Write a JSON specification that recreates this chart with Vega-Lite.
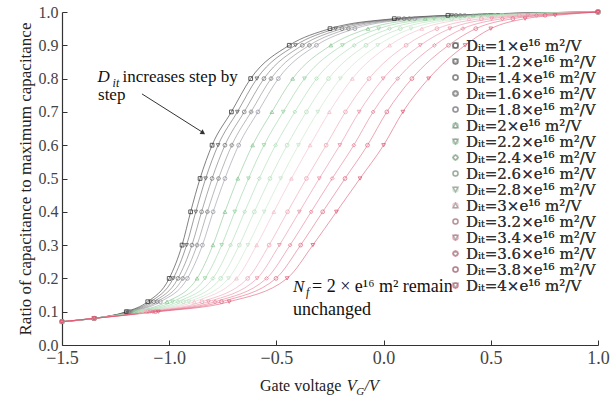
{
  "$schema": "https://vega.github.io/schema/vega-lite/v6.json",
  "width": 536,
  "height": 333,
  "autosize": "none",
  "padding": {"left": 62, "top": 12, "right": 15, "bottom": 51},
  "background": "white",
  "config": {"view": {"stroke": null}, "font": "Liberation Serif"},
  "datasets": {
    "one": [{}],
    "curves": [
      {"D":1,"x":-1.5,"y":0.07},{"D":1,"x":-1.35,"y":0.08},{"D":1,"x":-1.2,"y":0.1},{"D":1,"x":-1.1,"y":0.13},{"D":1,"x":-1.0,"y":0.2},{"D":1,"x":-0.94,"y":0.3},{"D":1,"x":-0.9,"y":0.4},{"D":1,"x":-0.856,"y":0.5},{"D":1,"x":-0.8,"y":0.6},{"D":1,"x":-0.71,"y":0.7},{"D":1,"x":-0.62,"y":0.8},{"D":1,"x":-0.44,"y":0.9},{"D":1,"x":-0.25,"y":0.95},{"D":1,"x":0.05,"y":0.98},{"D":1,"x":0.3,"y":0.99},{"D":1,"x":1.0,"y":1.0},
      {"D":1.2,"x":-1.5,"y":0.07},{"D":1.2,"x":-1.35,"y":0.08},{"D":1.2,"x":-1.195,"y":0.1},{"D":1.2,"x":-1.087,"y":0.13},{"D":1.2,"x":-0.981,"y":0.2},{"D":1.2,"x":-0.919,"y":0.3},{"D":1.2,"x":-0.876,"y":0.4},{"D":1.2,"x":-0.83,"y":0.5},{"D":1.2,"x":-0.772,"y":0.6},{"D":1.2,"x":-0.682,"y":0.7},{"D":1.2,"x":-0.591,"y":0.8},{"D":1.2,"x":-0.411,"y":0.9},{"D":1.2,"x":-0.224,"y":0.95},{"D":1.2,"x":0.071,"y":0.98},{"D":1.2,"x":0.318,"y":0.99},{"D":1.2,"x":1.0,"y":1.0},
      {"D":1.4,"x":-1.5,"y":0.07},{"D":1.4,"x":-1.35,"y":0.08},{"D":1.4,"x":-1.189,"y":0.1},{"D":1.4,"x":-1.072,"y":0.13},{"D":1.4,"x":-0.959,"y":0.2},{"D":1.4,"x":-0.894,"y":0.3},{"D":1.4,"x":-0.849,"y":0.4},{"D":1.4,"x":-0.8,"y":0.5},{"D":1.4,"x":-0.74,"y":0.6},{"D":1.4,"x":-0.65,"y":0.7},{"D":1.4,"x":-0.558,"y":0.8},{"D":1.4,"x":-0.379,"y":0.9},{"D":1.4,"x":-0.194,"y":0.95},{"D":1.4,"x":0.096,"y":0.98},{"D":1.4,"x":0.338,"y":0.99},{"D":1.4,"x":1.0,"y":1.0},
      {"D":1.6,"x":-1.5,"y":0.07},{"D":1.6,"x":-1.35,"y":0.08},{"D":1.6,"x":-1.183,"y":0.1},{"D":1.6,"x":-1.056,"y":0.13},{"D":1.6,"x":-0.937,"y":0.2},{"D":1.6,"x":-0.87,"y":0.3},{"D":1.6,"x":-0.822,"y":0.4},{"D":1.6,"x":-0.77,"y":0.5},{"D":1.6,"x":-0.708,"y":0.6},{"D":1.6,"x":-0.618,"y":0.7},{"D":1.6,"x":-0.525,"y":0.8},{"D":1.6,"x":-0.346,"y":0.9},{"D":1.6,"x":-0.164,"y":0.95},{"D":1.6,"x":0.12,"y":0.98},{"D":1.6,"x":0.358,"y":0.99},{"D":1.6,"x":1.0,"y":1.0},
      {"D":1.8,"x":-1.5,"y":0.07},{"D":1.8,"x":-1.35,"y":0.08},{"D":1.8,"x":-1.177,"y":0.1},{"D":1.8,"x":-1.041,"y":0.13},{"D":1.8,"x":-0.915,"y":0.2},{"D":1.8,"x":-0.845,"y":0.3},{"D":1.8,"x":-0.795,"y":0.4},{"D":1.8,"x":-0.74,"y":0.5},{"D":1.8,"x":-0.676,"y":0.6},{"D":1.8,"x":-0.586,"y":0.7},{"D":1.8,"x":-0.491,"y":0.8},{"D":1.8,"x":-0.313,"y":0.9},{"D":1.8,"x":-0.134,"y":0.95},{"D":1.8,"x":0.145,"y":0.98},{"D":1.8,"x":0.378,"y":0.99},{"D":1.8,"x":1.0,"y":1.0},
      {"D":2,"x":-1.5,"y":0.07},{"D":2,"x":-1.35,"y":0.08},{"D":2,"x":-1.165,"y":0.1},{"D":2,"x":-1.01,"y":0.13},{"D":2,"x":-0.87,"y":0.2},{"D":2,"x":-0.796,"y":0.3},{"D":2,"x":-0.74,"y":0.4},{"D":2,"x":-0.68,"y":0.5},{"D":2,"x":-0.611,"y":0.6},{"D":2,"x":-0.521,"y":0.7},{"D":2,"x":-0.424,"y":0.8},{"D":2,"x":-0.246,"y":0.9},{"D":2,"x":-0.073,"y":0.95},{"D":2,"x":0.194,"y":0.98},{"D":2,"x":0.418,"y":0.99},{"D":2,"x":1.0,"y":1.0},
      {"D":2.2,"x":-1.5,"y":0.07},{"D":2.2,"x":-1.35,"y":0.08},{"D":2.2,"x":-1.155,"y":0.1},{"D":2.2,"x":-0.985,"y":0.13},{"D":2.2,"x":-0.833,"y":0.2},{"D":2.2,"x":-0.755,"y":0.3},{"D":2.2,"x":-0.694,"y":0.4},{"D":2.2,"x":-0.63,"y":0.5},{"D":2.2,"x":-0.558,"y":0.6},{"D":2.2,"x":-0.468,"y":0.7},{"D":2.2,"x":-0.369,"y":0.8},{"D":2.2,"x":-0.192,"y":0.9},{"D":2.2,"x":-0.023,"y":0.95},{"D":2.2,"x":0.235,"y":0.98},{"D":2.2,"x":0.452,"y":0.99},{"D":2.2,"x":1.0,"y":1.0},
      {"D":2.4,"x":-1.5,"y":0.07},{"D":2.4,"x":-1.35,"y":0.08},{"D":2.4,"x":-1.144,"y":0.1},{"D":2.4,"x":-0.959,"y":0.13},{"D":2.4,"x":-0.796,"y":0.2},{"D":2.4,"x":-0.714,"y":0.3},{"D":2.4,"x":-0.648,"y":0.4},{"D":2.4,"x":-0.58,"y":0.5},{"D":2.4,"x":-0.504,"y":0.6},{"D":2.4,"x":-0.414,"y":0.7},{"D":2.4,"x":-0.313,"y":0.8},{"D":2.4,"x":-0.137,"y":0.9},{"D":2.4,"x":0.028,"y":0.95},{"D":2.4,"x":0.276,"y":0.98},{"D":2.4,"x":0.485,"y":0.99},{"D":2.4,"x":1.0,"y":1.0},
      {"D":2.6,"x":-1.5,"y":0.07},{"D":2.6,"x":-1.35,"y":0.08},{"D":2.6,"x":-1.134,"y":0.1},{"D":2.6,"x":-0.934,"y":0.13},{"D":2.6,"x":-0.76,"y":0.2},{"D":2.6,"x":-0.673,"y":0.3},{"D":2.6,"x":-0.603,"y":0.4},{"D":2.6,"x":-0.53,"y":0.5},{"D":2.6,"x":-0.45,"y":0.6},{"D":2.6,"x":-0.36,"y":0.7},{"D":2.6,"x":-0.257,"y":0.8},{"D":2.6,"x":-0.082,"y":0.9},{"D":2.6,"x":0.078,"y":0.95},{"D":2.6,"x":0.317,"y":0.98},{"D":2.6,"x":0.519,"y":0.99},{"D":2.6,"x":1.0,"y":1.0},
      {"D":2.8,"x":-1.5,"y":0.07},{"D":2.8,"x":-1.35,"y":0.08},{"D":2.8,"x":-1.124,"y":0.1},{"D":2.8,"x":-0.908,"y":0.13},{"D":2.8,"x":-0.723,"y":0.2},{"D":2.8,"x":-0.633,"y":0.3},{"D":2.8,"x":-0.557,"y":0.4},{"D":2.8,"x":-0.48,"y":0.5},{"D":2.8,"x":-0.397,"y":0.6},{"D":2.8,"x":-0.307,"y":0.7},{"D":2.8,"x":-0.202,"y":0.8},{"D":2.8,"x":-0.027,"y":0.9},{"D":2.8,"x":0.128,"y":0.95},{"D":2.8,"x":0.357,"y":0.98},{"D":2.8,"x":0.552,"y":0.99},{"D":2.8,"x":1.0,"y":1.0},
      {"D":3,"x":-1.5,"y":0.07},{"D":3,"x":-1.35,"y":0.08},{"D":3,"x":-1.114,"y":0.1},{"D":3,"x":-0.883,"y":0.13},{"D":3,"x":-0.686,"y":0.2},{"D":3,"x":-0.592,"y":0.3},{"D":3,"x":-0.512,"y":0.4},{"D":3,"x":-0.43,"y":0.5},{"D":3,"x":-0.343,"y":0.6},{"D":3,"x":-0.253,"y":0.7},{"D":3,"x":-0.146,"y":0.8},{"D":3,"x":0.028,"y":0.9},{"D":3,"x":0.178,"y":0.95},{"D":3,"x":0.398,"y":0.98},{"D":3,"x":0.586,"y":0.99},{"D":3,"x":1.0,"y":1.0},
      {"D":3.2,"x":-1.5,"y":0.07},{"D":3.2,"x":-1.35,"y":0.08},{"D":3.2,"x":-1.1,"y":0.1},{"D":3.2,"x":-0.847,"y":0.13},{"D":3.2,"x":-0.634,"y":0.2},{"D":3.2,"x":-0.534,"y":0.3},{"D":3.2,"x":-0.448,"y":0.4},{"D":3.2,"x":-0.36,"y":0.5},{"D":3.2,"x":-0.268,"y":0.6},{"D":3.2,"x":-0.178,"y":0.7},{"D":3.2,"x":-0.068,"y":0.8},{"D":3.2,"x":0.105,"y":0.9},{"D":3.2,"x":0.249,"y":0.95},{"D":3.2,"x":0.456,"y":0.98},{"D":3.2,"x":0.633,"y":0.99},{"D":3.2,"x":1.0,"y":1.0},
      {"D":3.4,"x":-1.5,"y":0.07},{"D":3.4,"x":-1.35,"y":0.08},{"D":3.4,"x":-1.088,"y":0.1},{"D":3.4,"x":-0.817,"y":0.13},{"D":3.4,"x":-0.59,"y":0.2},{"D":3.4,"x":-0.486,"y":0.3},{"D":3.4,"x":-0.393,"y":0.4},{"D":3.4,"x":-0.3,"y":0.5},{"D":3.4,"x":-0.204,"y":0.6},{"D":3.4,"x":-0.114,"y":0.7},{"D":3.4,"x":-0.002,"y":0.8},{"D":3.4,"x":0.171,"y":0.9},{"D":3.4,"x":0.309,"y":0.95},{"D":3.4,"x":0.504,"y":0.98},{"D":3.4,"x":0.673,"y":0.99},{"D":3.4,"x":1.0,"y":1.0},
      {"D":3.6,"x":-1.5,"y":0.07},{"D":3.6,"x":-1.35,"y":0.08},{"D":3.6,"x":-1.076,"y":0.1},{"D":3.6,"x":-0.786,"y":0.13},{"D":3.6,"x":-0.546,"y":0.2},{"D":3.6,"x":-0.436,"y":0.3},{"D":3.6,"x":-0.338,"y":0.4},{"D":3.6,"x":-0.24,"y":0.5},{"D":3.6,"x":-0.139,"y":0.6},{"D":3.6,"x":-0.049,"y":0.7},{"D":3.6,"x":0.066,"y":0.8},{"D":3.6,"x":0.237,"y":0.9},{"D":3.6,"x":0.37,"y":0.95},{"D":3.6,"x":0.554,"y":0.98},{"D":3.6,"x":0.713,"y":0.99},{"D":3.6,"x":1.0,"y":1.0},
      {"D":3.8,"x":-1.5,"y":0.07},{"D":3.8,"x":-1.35,"y":0.08},{"D":3.8,"x":-1.064,"y":0.1},{"D":3.8,"x":-0.756,"y":0.13},{"D":3.8,"x":-0.502,"y":0.2},{"D":3.8,"x":-0.387,"y":0.3},{"D":3.8,"x":-0.284,"y":0.4},{"D":3.8,"x":-0.18,"y":0.5},{"D":3.8,"x":-0.075,"y":0.6},{"D":3.8,"x":0.015,"y":0.7},{"D":3.8,"x":0.132,"y":0.8},{"D":3.8,"x":0.303,"y":0.9},{"D":3.8,"x":0.43,"y":0.95},{"D":3.8,"x":0.603,"y":0.98},{"D":3.8,"x":0.753,"y":0.99},{"D":3.8,"x":1.0,"y":1.0},
      {"D":4,"x":-1.5,"y":0.07},{"D":4,"x":-1.35,"y":0.08},{"D":4,"x":-1.05,"y":0.1},{"D":4,"x":-0.72,"y":0.13},{"D":4,"x":-0.45,"y":0.2},{"D":4,"x":-0.33,"y":0.3},{"D":4,"x":-0.22,"y":0.4},{"D":4,"x":-0.11,"y":0.5},{"D":4,"x":0.0,"y":0.6},{"D":4,"x":0.09,"y":0.7},{"D":4,"x":0.21,"y":0.8},{"D":4,"x":0.38,"y":0.9},{"D":4,"x":0.5,"y":0.95},{"D":4,"x":0.66,"y":0.98},{"D":4,"x":0.8,"y":0.99},{"D":4,"x":1.0,"y":1.0}
    ]
  },
  "encoding": {
    "x": {"type": "quantitative", "scale": {"domain": [-1.5, 1.0], "nice": false, "zero": false},
      "axis": {"values": [-1.5, -1, -0.5, 0, 0.5, 1], "format": ".1f", "title": null, "grid": false,
        "tickSize": -5, "labelPadding": 9, "labelFlush": false, "labelOverlap": false,
        "domainColor": "#333", "domainWidth": 1.2, "tickColor": "#333",
        "labelFont": "Liberation Serif", "labelFontSize": 18, "labelColor": "#444"}},
    "y": {"type": "quantitative", "scale": {"domain": [0, 1.0], "nice": false},
      "axis": {"values": [0, 0.1, 0.2, 0.3, 0.4, 0.5, 0.6, 0.7, 0.8, 0.9, 1.0], "format": ".1f",
        "title": "Ratio of capacitance to maximum capacitance", "grid": false,
        "tickSize": -5, "labelPadding": 9, "labelOverlap": false,
        "domainColor": "#333", "domainWidth": 1.2, "tickColor": "#333",
        "labelFont": "Liberation Serif", "labelFontSize": 16, "labelColor": "#444",
        "titleFont": "Liberation Serif", "titleFontSize": 17, "titleFontWeight": "normal", "titleColor": "#222", "titlePadding": 4}}
  },
  "layer": [
    {
      "data": {"name": "curves"},
      "mark": {"type": "line", "interpolate": "monotone", "strokeWidth": 1, "opacity": 0.55},
      "encoding": {
        "x": {"field": "x", "type": "quantitative"},
        "y": {"field": "y", "type": "quantitative"},
        "color": {"field": "D", "type": "ordinal",
          "scale": {"range": ["#1a1a1a", "#4d4d4d", "#666666", "#808080", "#8c8c9c", "#7fbf8a", "#8dcf98", "#9fd8a8", "#b0dcb6", "#bfe3c3", "#f0b8c4", "#ec99aa", "#e8849a", "#e57089", "#e25d79", "#de4a69"]},
          "legend": {"orient": "none", "legendX": 386, "legendY": 26, "title": null,
            "labelExpr": "'Dᵢₜ=' + datum.label + '×e¹⁶ m²/V'",
            "labelFont": "DejaVu Serif", "labelFontSize": 15, "labelColor": "#333",
            "rowPadding": 0, "symbolSize": 25, "symbolOpacity": 0.6, "labelOffset": 3}}
      }
    },
    {
      "data": {"name": "curves"},
      "mark": {"type": "point", "filled": false, "size": 14, "opacity": 0.7, "strokeWidth": 1},
      "encoding": {
        "x": {"field": "x", "type": "quantitative"},
        "y": {"field": "y", "type": "quantitative"},
        "color": {"field": "D", "type": "ordinal"},
        "shape": {"field": "D", "type": "ordinal",
          "scale": {"range": ["square", "triangle-down", "circle", "cross", "circle", "triangle-up", "triangle-down", "diamond", "circle", "triangle-down", "triangle-up", "circle", "triangle-down", "diamond", "circle", "triangle-down"]},
          "legend": {"orient": "none", "legendX": 386, "legendY": 26, "title": null,
            "labelExpr": "'Dᵢₜ=' + datum.label + '×e¹⁶ m²/V'",
            "labelFont": "DejaVu Serif", "labelFontSize": 15, "labelColor": "#333",
            "rowPadding": 0, "symbolSize": 25, "symbolOpacity": 0.6, "labelOffset": 3}}
      }
    },
    {
      "data": {"name": "one"},
      "mark": {"type": "rule", "color": "#333", "strokeWidth": 1},
      "encoding": {"x": {"datum": -1.127}, "y": {"datum": 0.754}, "x2": {"datum": -0.845}, "y2": {"datum": 0.639}}
    },
    {
      "data": {"name": "one"},
      "mark": {"type": "point", "shape": "triangle-right", "filled": true, "color": "#333", "size": 30, "angle": 32.6, "opacity": 1},
      "encoding": {"x": {"datum": -0.842}, "y": {"datum": 0.637}}
    },
    {
      "data": {"name": "one"},
      "mark": {"type": "text", "text": "D", "font": "Liberation Serif", "fontSize": 17, "fontStyle": "italic", "align": "left", "baseline": "alphabetic", "color": "#111"},
      "encoding": {"x": {"datum": -1.335}, "y": {"datum": 0.79}}
    },
    {
      "data": {"name": "one"},
      "mark": {"type": "text", "text": "it", "font": "Liberation Serif", "fontSize": 12, "fontStyle": "italic", "align": "left", "baseline": "alphabetic", "color": "#111"},
      "encoding": {"x": {"datum": -1.264}, "y": {"datum": 0.776}}
    },
    {
      "data": {"name": "one"},
      "mark": {"type": "text", "text": "increases step by", "font": "Liberation Serif", "fontSize": 17, "align": "left", "baseline": "alphabetic", "color": "#111"},
      "encoding": {"x": {"datum": -1.218}, "y": {"datum": 0.79}}
    },
    {
      "data": {"name": "one"},
      "mark": {"type": "text", "text": "step", "font": "Liberation Serif", "fontSize": 17, "align": "left", "baseline": "alphabetic", "color": "#111"},
      "encoding": {"x": {"datum": -1.332}, "y": {"datum": 0.736}}
    },
    {
      "data": {"name": "one"},
      "mark": {"type": "text", "text": "N", "font": "Liberation Serif", "fontSize": 17, "fontStyle": "italic", "align": "left", "baseline": "alphabetic", "color": "#111"},
      "encoding": {"x": {"datum": -0.4226}, "y": {"datum": 0.159}}
    },
    {
      "data": {"name": "one"},
      "mark": {"type": "text", "text": "f", "font": "Liberation Serif", "fontSize": 12, "fontStyle": "italic", "align": "left", "baseline": "alphabetic", "color": "#111"},
      "encoding": {"x": {"datum": -0.362}, "y": {"datum": 0.147}}
    },
    {
      "data": {"name": "one"},
      "mark": {"type": "text", "text": "= 2 × e¹⁶ m² remain", "font": "Liberation Serif", "fontSize": 18, "align": "left", "baseline": "alphabetic", "color": "#111"},
      "encoding": {"x": {"datum": -0.334}, "y": {"datum": 0.159}}
    },
    {
      "data": {"name": "one"},
      "mark": {"type": "text", "text": "unchanged", "font": "Liberation Serif", "fontSize": 18, "align": "left", "baseline": "alphabetic", "color": "#111"},
      "encoding": {"x": {"datum": -0.4226}, "y": {"datum": 0.09}}
    },
    {
      "data": {"name": "one"},
      "mark": {"type": "text", "text": "Gate voltage", "font": "Liberation Serif", "fontSize": 16, "align": "left", "baseline": "alphabetic", "color": "#222"},
      "encoding": {"x": {"datum": -0.5765}, "y": {"datum": -0.138}}
    },
    {
      "data": {"name": "one"},
      "mark": {"type": "text", "text": "V", "font": "Liberation Serif", "fontSize": 16, "fontStyle": "italic", "align": "left", "baseline": "alphabetic", "color": "#222"},
      "encoding": {"x": {"datum": -0.172}, "y": {"datum": -0.138}}
    },
    {
      "data": {"name": "one"},
      "mark": {"type": "text", "text": "G", "font": "Liberation Serif", "fontSize": 11, "fontStyle": "italic", "align": "left", "baseline": "alphabetic", "color": "#222"},
      "encoding": {"x": {"datum": -0.127}, "y": {"datum": -0.15}}
    },
    {
      "data": {"name": "one"},
      "mark": {"type": "text", "text": "/V", "font": "Liberation Serif", "fontSize": 16, "fontStyle": "italic", "align": "left", "baseline": "alphabetic", "color": "#222"},
      "encoding": {"x": {"datum": -0.089}, "y": {"datum": -0.138}}
    }
  ]
}
